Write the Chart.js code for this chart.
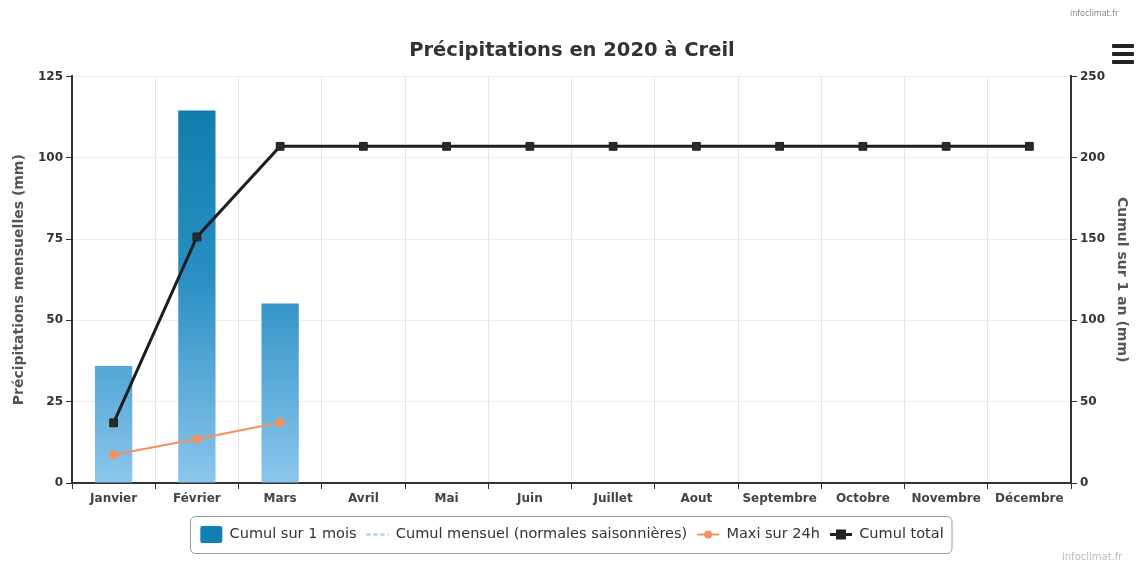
<!DOCTYPE html>
<html>
<head>
<meta charset="utf-8">
<script src="https://cdn.jsdelivr.net/npm/chart.js@4/dist/chart.umd.min.js"></script>
<style>
  html, body { margin: 0; padding: 0; background: #fff; }
  #wrap { position: relative; width: 1136px; height: 563px; }
  #menu { position: absolute; left: 1112px; top: 44px; width: 22px; }
  #menu div { height: 4px; background: #222; margin-bottom: 4px; border-radius: 1px; }
  .mark { position: absolute; font: 10px 'DejaVu Sans', sans-serif; color: #bbb; }
</style>
</head>
<body>
<div id="wrap">
  <canvas id="chart" width="1136" height="563"></canvas>
  <div id="menu"><div></div><div></div><div></div></div>
  <span class="mark" style="left:1070px; top:9px; color:#888; font-size:8px;">infoclimat.fr</span>
  <span class="mark" style="left:1062px; top:551px;">infoclimat.fr</span>
</div>
<script>
const months = ['Janvier', 'Février', 'Mars', 'Avril', 'Mai', 'Juin', 'Juillet', 'Aout', 'Septembre', 'Octobre', 'Novembre', 'Décembre'];
const cumulMois = [36, 114.5, 55.2, null, null, null, null, null, null, null, null, null];
const normales = [null, null, null, null, null, null, null, null, null, null, null, null];
const maxi24h = [8.7, 13.5, 18.6, null, null, null, null, null, null, null, null, null];
const cumulTotal = [37, 151.3, 207, 207, 207, 207, 207, 207, 207, 207, 207, 207];
const leftTicks = [0, 25, 50, 75, 100, 125];
const rightTicks = [0, 50, 100, 150, 200, 250];

const FONT = "'DejaVu Sans', sans-serif";
const BLUE = '#1081b0';
const DASH_BLUE = '#9cc9e8';
const ORANGE = '#f7905f';
const BLACK = '#222';

function barGradient(context) {
  const area = context.chart.chartArea;
  if (!area) return '#1a8bbf';
  const g = context.chart.ctx.createLinearGradient(0, area.top, 0, area.bottom);
  g.addColorStop(0, '#0a7aa8');
  g.addColorStop(0.5, '#2a8fc4');
  g.addColorStop(1, '#8cc6ec');
  return g;
}

// box round the legend items + the legend symbols
const legendExtras = {
  id: 'legendExtras',
  afterDraw(chart) {
    const lg = chart.legend;
    if (!lg || !lg.legendHitBoxes) return;
    const boxes = lg.legendHitBoxes;
    const ctx = chart.ctx;
    const first = boxes[0];
    const last = boxes[boxes.length - 1];
    ctx.save();
    ctx.strokeStyle = '#9a9a9a';
    ctx.lineWidth = 1;
    ctx.beginPath();
    const bx = Math.round(first.left - 10) + 0.5;
    const by = Math.round(first.top - 10) + 0.5;
    ctx.roundRect(bx, by, Math.round(last.left + last.width + 8) - bx, Math.round(first.height + 20), 5);
    ctx.stroke();

    const sym = (i) => ({ x0: boxes[i].left, x1: boxes[i].left + 22, cy: boxes[i].top + boxes[i].height / 2 });
    // bar square
    let s = sym(0);
    ctx.fillStyle = BLUE;
    ctx.beginPath();
    ctx.roundRect(s.x0, s.cy - 8.5, 22, 17, 2);
    ctx.fill();
    // dashed normals
    s = sym(1);
    ctx.strokeStyle = DASH_BLUE;
    ctx.lineWidth = 2;
    ctx.setLineDash([4, 3]);
    ctx.beginPath(); ctx.moveTo(s.x0, s.cy); ctx.lineTo(s.x1, s.cy); ctx.stroke();
    ctx.setLineDash([]);
    // orange line + dot
    s = sym(2);
    ctx.strokeStyle = ORANGE;
    ctx.fillStyle = ORANGE;
    ctx.lineWidth = 2;
    ctx.beginPath(); ctx.moveTo(s.x0, s.cy); ctx.lineTo(s.x1, s.cy); ctx.stroke();
    ctx.beginPath(); ctx.arc((s.x0 + s.x1) / 2, s.cy, 4, 0, Math.PI * 2); ctx.fill();
    // black line + square
    s = sym(3);
    ctx.strokeStyle = BLACK;
    ctx.fillStyle = BLACK;
    ctx.lineWidth = 3;
    ctx.beginPath(); ctx.moveTo(s.x0, s.cy); ctx.lineTo(s.x1, s.cy); ctx.stroke();
    ctx.fillRect((s.x0 + s.x1) / 2 - 5, s.cy - 5, 10, 10);
    ctx.restore();
  }
};

new Chart(document.getElementById('chart'), {
  type: 'bar',
  data: {
    labels: months,
    datasets: [
      {
        type: 'bar',
        label: 'Cumul sur 1 mois',
        data: cumulMois,
        yAxisID: 'y',
        backgroundColor: barGradient,
        barPercentage: 0.56,
        categoryPercentage: 0.8,
        order: 3,
      },
      {
        type: 'line',
        label: 'Cumul mensuel (normales saisonnières)',
        data: normales,
        yAxisID: 'y',
        borderColor: DASH_BLUE,
        borderDash: [4, 3],
        borderWidth: 2,
        pointRadius: 0,
        order: 2,
      },
      {
        type: 'line',
        label: 'Maxi sur 24h',
        data: maxi24h,
        yAxisID: 'y',
        borderColor: ORANGE,
        backgroundColor: ORANGE,
        borderWidth: 2,
        pointRadius: 3.5,
        pointStyle: 'circle',
        order: 1,
      },
      {
        type: 'line',
        label: 'Cumul total',
        data: cumulTotal,
        yAxisID: 'y1',
        borderColor: '#1e1e1e',
        backgroundColor: '#2a2a2a',
        borderWidth: 3,
        pointStyle: 'rect',
        pointRadius: 5.5,
        pointBorderWidth: 1,
        order: 0,
      },
    ],
  },
  options: {
    responsive: false,
    animation: false,
    layout: { padding: { left: 8, right: 0, top: 0, bottom: 10 } },
    plugins: {
      title: {
        display: true,
        text: 'Précipitations en 2020 à Creil',
        color: '#333',
        font: { family: FONT, size: 19.5, weight: 'bold' },
        padding: { top: 39, bottom: 14 },
      },
      legend: {
        position: 'bottom',
        labels: {
          color: '#333',
          font: { family: FONT, size: 14.5 },
          boxWidth: 22,
          boxHeight: 17,
          padding: 10,
          generateLabels(chart) {
            return chart.data.datasets.map((ds, i) => ({
              text: ds.label,
              datasetIndex: i,
              hidden: false,
              fontColor: '#333',
              fillStyle: 'rgba(0,0,0,0)',
              strokeStyle: 'rgba(0,0,0,0)',
              lineWidth: 0,
            }));
          },
        },
      },
      tooltip: { enabled: false },
    },
    scales: {
      x: {
        afterFit(scale) { scale.height = 33; },
        grid: { offset: true, color: '#e4e4e4', tickColor: '#333', tickLength: 6 },
        border: { color: '#333', width: 2 },
        ticks: { color: '#444', font: { family: FONT, size: 12, weight: 'bold' }, maxRotation: 0, autoSkip: false, padding: 3 },
      },
      y: {
        position: 'left',
        min: 0,
        max: 125,
        afterBuildTicks(scale) { scale.ticks = leftTicks.map((v) => ({ value: v })); },
        afterFit(scale) { scale.width = 64; },
        grid: { color: '#ececec', tickColor: '#333', tickLength: 6 },
        border: { color: '#333', width: 2 },
        ticks: { color: '#333', font: { family: FONT, size: 12, weight: 'bold' }, padding: 3 },
        title: {
          display: true,
          text: 'Précipitations mensuelles (mm)',
          color: '#555',
          font: { family: FONT, size: 14, weight: 'bold' },
          padding: { top: 3, bottom: 0 },
        },
      },
      y1: {
        position: 'right',
        min: 0,
        max: 250,
        afterBuildTicks(scale) { scale.ticks = rightTicks.map((v) => ({ value: v })); },
        afterFit(scale) { scale.width = 65; },
        grid: { drawOnChartArea: false, tickColor: '#333', tickLength: 6 },
        border: { color: '#333', width: 2 },
        ticks: { color: '#333', font: { family: FONT, size: 12, weight: 'bold' }, padding: 3 },
        title: {
          display: true,
          text: 'Cumul sur 1 an (mm)',
          color: '#555',
          font: { family: FONT, size: 14, weight: 'bold' },
          padding: { top: 6, bottom: 0 },
        },
      },
    },
  },
  plugins: [legendExtras],
});
</script>
</body>
</html>
